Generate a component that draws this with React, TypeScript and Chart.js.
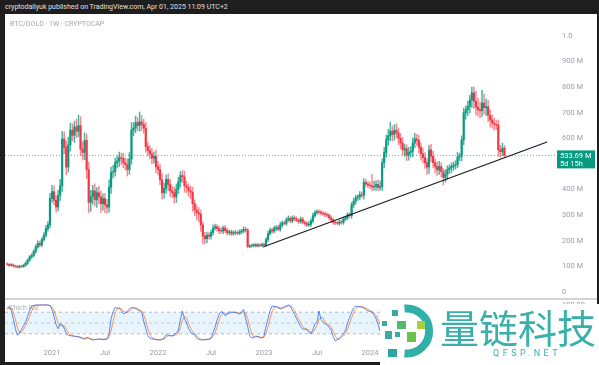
import React, { useEffect, useRef } from 'react';
import { Chart, registerables } from 'chart.js';

Chart.register(...registerables);

// ---------------- DATA ----------------
// Weekly BTC/GOLD candles (values in millions), first week = 2020-08-03
const firstOpen = 110;
const closes = [
  108, 104, 106, 102, 100, 97, 101, 99, 104, 112,
  124, 137, 142, 158, 176, 190, 184, 205, 222, 248,
  262, 365, 392, 358, 332, 378, 415, 598, 565, 488,
  575, 632, 612, 645, 628, 650, 558, 545, 592, 478,
  350, 372, 395, 360, 388, 372, 345, 365, 340, 332,
  410, 468, 470, 505, 512, 525, 522, 505, 498, 478,
  520, 632, 640, 662, 650, 665, 655, 640, 568, 552,
  540, 523, 530, 490, 478, 438, 388, 405, 440, 420,
  395, 388, 372, 402, 430, 455, 450, 415, 408, 395,
  390, 345, 320, 310, 305, 262, 218, 208, 222, 218,
  232, 250, 255, 248, 240, 238, 250, 240, 232, 235,
  228, 232, 233, 230, 235, 238, 245, 242, 178, 180,
  182, 185, 180, 184, 182, 186, 184, 205, 228, 242,
  238, 248, 252, 245, 262, 270, 268, 282, 288, 278,
  290, 286, 280, 275, 285, 272, 268, 262, 264, 278,
  298, 310, 314, 312, 308, 305, 302, 300, 290, 282,
  272, 270, 268, 274, 272, 285, 290, 302, 298, 340,
  355, 368, 372, 380, 378, 428, 422, 418, 415, 410,
  412, 420, 408, 412, 505, 545, 595, 610, 628, 615,
  632, 622, 600, 582, 555, 560, 535, 545, 550, 582,
  598, 592, 565, 540, 525, 505, 488, 555, 530, 505,
  490, 477, 490, 470, 448, 460, 478, 485, 490, 495,
  498, 528, 530, 595, 700, 712, 725, 750, 778, 745,
  722, 712, 708, 738, 720, 724, 690, 672, 660, 655,
  652, 555, 548, 562, 533.69,
];
const upWick = [
  4, 3, 5, 4, 3, 4, 3, 4, 5, 6,
  5, 6, 8, 7, 8, 10, 9, 8, 10, 12,
  14, 20, 25, 22, 18, 20, 25, 30, 28, 25,
  30, 28, 25, 22, 30, 41, 35, 28, 30, 25,
  30, 25, 22, 28, 20, 25, 22, 18, 20, 22,
  28, 20, 25, 18, 20, 22, 18, 20, 18, 22,
  25, 30, 22, 25, 20, 38, 25, 20, 22, 18,
  20, 22, 18, 25, 20, 22, 25, 20, 18, 22,
  20, 18, 22, 20, 18, 15, 20, 22, 18, 15,
  18, 20, 15, 18, 20, 15, 12, 15, 12, 10,
  10, 12, 10, 8, 10, 12, 8, 10, 8, 7,
  8, 7, 8, 6, 8, 7, 10, 8, 6, 5,
  5, 4, 6, 5, 4, 5, 6, 8, 10, 8,
  8, 10, 7, 8, 10, 8, 7, 8, 9, 7,
  8, 7, 8, 6, 8, 7, 6, 8, 10, 8,
  10, 8, 7, 8, 7, 6, 8, 7, 6, 8,
  7, 6, 5, 6, 7, 8, 6, 8, 7, 10,
  12, 10, 8, 12, 10, 15, 12, 10, 12, 45,
  20, 15, 18, 22, 15, 20, 18, 25, 36, 20,
  22, 25, 18, 20, 22, 18, 15, 20, 18, 20,
  22, 18, 20, 18, 22, 20, 15, 18, 22, 20,
  15, 18, 20, 15, 12, 18, 15, 12, 15, 12,
  15, 18, 12, 15, 18, 15, 20, 18, 22, 23,
  40, 35, 30, 50, 35, 30, 25, 22, 20, 18,
  15, 20, 18, 20, 10,
];
const dnWick = [
  3, 4, 3, 5, 4, 3, 4, 3, 3, 4,
  5, 4, 6, 5, 7, 6, 8, 7, 6, 8,
  10, 12, 15, 18, 20, 15, 20, 22, 25, 30,
  20, 25, 22, 28, 25, 22, 25, 30, 28, 35,
  40, 35, 30, 25, 30, 28, 35, 25, 30, 25,
  20, 25, 22, 18, 20, 22, 25, 20, 22, 25,
  18, 20, 22, 18, 20, 22, 25, 20, 22, 20,
  20, 22, 20, 25, 22, 20, 25, 22, 20, 25,
  22, 20, 25, 22, 18, 20, 22, 25, 20, 22,
  25, 30, 22, 28, 30, 25, 30, 20, 15, 12,
  12, 10, 8, 10, 12, 8, 10, 8, 10, 8,
  8, 7, 8, 7, 6, 8, 7, 8, 6, 5,
  5, 6, 5, 4, 6, 5, 4, 5, 8, 6,
  8, 7, 8, 6, 7, 8, 6, 8, 7, 8,
  7, 8, 6, 8, 7, 6, 8, 7, 6, 8,
  8, 7, 6, 8, 7, 6, 8, 7, 8, 10,
  8, 7, 6, 8, 7, 8, 6, 7, 8, 10,
  10, 12, 10, 12, 10, 15, 12, 10, 12, 15,
  12, 15, 12, 10, 15, 20, 18, 22, 20, 25,
  22, 20, 25, 22, 20, 25, 22, 20, 18, 20,
  18, 20, 22, 25, 20, 22, 30, 25, 22, 20,
  25, 22, 18, 20, 30, 18, 20, 15, 18, 15,
  15, 12, 15, 18, 20, 25, 22, 25, 30, 28,
  30, 25, 28, 22, 25, 30, 25, 28, 20, 22,
  18, 25, 22, 15, 8,
];
// Stoch RSI %K / %D
const stochK = [
  90, 96, 85, 62, 35, 16, 22, 32, 42, 52,
  68, 85, 97, 99, 100, 100, 100, 100, 100, 100,
  100, 98, 88, 68, 45, 34, 48, 45, 35, 20,
  16, 15, 14, 13, 12, 12, 9, 7, 5, 10,
  8, 4, 3, 4, 5, 6, 5, 4, 5, 6,
  20, 62, 82, 93, 92, 91, 85, 76, 78, 82,
  90, 93, 92, 90, 87, 84, 80, 55, 35, 15,
  8, 6, 5, 4, 3, 3, 5, 8, 18, 16,
  14, 14, 18, 22, 30, 60, 83, 62, 50, 35,
  24, 20, 18, 8, 5, 3, 3, 4, 5, 5,
  8, 22, 38, 58, 75, 82, 78, 70, 76, 81,
  80, 80, 79, 77, 75, 80, 88, 62, 40, 15,
  8, 10, 14, 12, 9, 8, 14, 40, 62, 85,
  97, 96, 95, 92, 89, 92, 96, 97, 100, 96,
  84, 74, 62, 50, 40, 33, 33, 32, 25, 19,
  30, 48, 52, 83, 60, 52, 48, 45, 38, 30,
  12, 0, 4, 8, 14, 20, 30, 50, 65, 80,
  92, 97, 96, 95, 94, 92, 88, 84, 82, 80,
  72, 62, 45, 28, 55, 80, 95, 100, 100, 96,
  92, 85, 72, 55, 38, 30, 22, 25, 32, 48,
  62, 60, 45, 30, 18, 10, 5, 20, 18, 12,
  8, 5, 8, 5, 2, 6, 15, 25, 35, 45,
  55, 68, 80, 92, 100, 100, 100, 100, 100, 96,
  88, 80, 75, 78, 76, 72, 60, 45, 32, 22,
  15, 6, 4, 3, 2,
];
const stochD = [
  88, 92, 90, 81, 61, 38, 24, 23, 32, 42,
  54, 68, 83, 94, 99, 100, 100, 100, 100, 100,
  100, 99, 95, 85, 67, 49, 42, 42, 43, 33,
  24, 17, 15, 14, 13, 12, 11, 9, 7, 7,
  8, 7, 5, 4, 4, 5, 5, 5, 5, 5,
  10, 29, 55, 79, 89, 92, 89, 84, 80, 79,
  83, 88, 92, 92, 90, 87, 84, 73, 57, 35,
  19, 10, 6, 5, 4, 3, 4, 5, 10, 14,
  16, 15, 15, 18, 23, 37, 58, 68, 65, 49,
  36, 26, 21, 15, 10, 5, 4, 3, 4, 5,
  6, 12, 23, 39, 57, 72, 78, 77, 75, 76,
  79, 80, 80, 79, 77, 77, 81, 77, 63, 39,
  21, 11, 11, 12, 12, 10, 10, 21, 39, 62,
  81, 93, 96, 94, 92, 91, 92, 95, 98, 98,
  93, 85, 73, 62, 51, 41, 35, 33, 30, 25,
  25, 32, 43, 61, 65, 65, 53, 48, 44, 38,
  27, 14, 5, 4, 9, 14, 21, 33, 48, 65,
  79, 90, 95, 96, 95, 94, 91, 88, 85, 82,
  78, 71, 60, 45, 43, 54, 77, 92, 98, 99,
  96, 91, 83, 71, 55, 41, 30, 26, 26, 35,
  47, 57, 56, 45, 31, 19, 11, 12, 14, 17,
  13, 8, 7, 6, 5, 4, 8, 15, 25, 35,
  45, 56, 68, 80, 91, 97, 100, 100, 100, 99,
  95, 88, 81, 78, 76, 75, 69, 59, 46, 33,
  23, 14, 8, 4, 3,
];

const timeTickIdx = [22, 48, 74, 100, 126, 152, 178, 204, 230];
const timeTickLabels = ['2021', 'Jul', '2022', 'Jul', '2023', 'Jul', '2024', 'Jul', '2025'];
const priceTicks = [0, 100, 200, 300, 400, 500, 600, 700, 800, 900, 1000];
const priceTickLabels = ['0', '100 M', '200 M', '300 M', '400 M', '500 M', '600 M', '700 M', '800 M', '900 M', '1.0'];
const trendX = [125.5, 264.9];
const trendY = [176, 586];
const stochLevels = [80, 50, 20];
const stochTicks = [100];
const stochTickLabels = ['100.00'];
const lastPriceLabel = '533.69 M';
const countdownLabel = '5d 15h';

// ---------------- STYLE ----------------
const X_MIN = -1.06;
const X_MAX = 268.8;
const UP = '#089981';
const DOWN = '#F23645';
const UP_WICK = 'rgba(8,153,129,0.75)';
const DOWN_WICK = 'rgba(242,54,69,0.6)';
const TXT = '#9a9da6';
const FONT = 'Roboto, "Noto Sans", sans-serif';

const priceTagPlugin = {
  id: 'priceTag',
  afterDraw(chart: any) {
    const { ctx, chartArea } = chart;
    const y = chart.scales.y;
    const last = closes[closes.length - 1];
    const py = y.getPixelForValue(last);
    const x0 = chartArea.right + 2;
    ctx.save();
    ctx.fillStyle = UP;
    ctx.fillRect(x0, py - 5, 38, 18);
    ctx.fillStyle = '#ffffff';
    ctx.font = '7.5px ' + FONT;
    ctx.textBaseline = 'middle';
    ctx.textAlign = 'left';
    ctx.fillText(lastPriceLabel, x0 + 3, py + 0.5);
    ctx.fillText(countdownLabel, x0 + 3, py + 8.5);
    ctx.restore();
  },
};

export default function App() {
  const mainRef = useRef<HTMLCanvasElement>(null);
  const stochRef = useRef<HTMLCanvasElement>(null);

  useEffect(() => {
    const n = closes.length;
    const idx = Array.from({ length: n }, (_, i) => i);
    const opens = idx.map((i) => (i === 0 ? firstOpen : closes[i - 1]));
    const highs = idx.map((i) => Math.max(opens[i], closes[i]) + upWick[i]);
    const lows = idx.map((i) => Math.min(opens[i], closes[i]) - dnWick[i]);
    const isUp = idx.map((i) => closes[i] >= opens[i]);
    const colors = idx.map((i) => (isUp[i] ? UP : DOWN));
    const wickColors = idx.map((i) => (isUp[i] ? UP_WICK : DOWN_WICK));
    const last = closes[n - 1];

    const main = new Chart(mainRef.current!, {
      type: 'bar',
      data: {
        datasets: [
          {
            type: 'line',
            data: trendX.map((x, i) => ({ x, y: trendY[i] })),
            borderColor: '#131722',
            borderWidth: 1.1,
            pointRadius: 0,
            order: 0,
          } as any,
          {
            type: 'line',
            data: [
              { x: X_MIN, y: last },
              { x: X_MAX, y: last },
            ],
            borderColor: 'rgba(8,153,129,0.7)',
            borderWidth: 1,
            borderDash: [1, 2],
            pointRadius: 0,
            order: 3,
          } as any,
          {
            type: 'bar',
            data: idx.map((i) => ({ x: i, y: [opens[i], closes[i]] })),
            backgroundColor: colors,
            barThickness: 1.5,
            grouped: false,
            order: 1,
          } as any,
          {
            type: 'bar',
            data: idx.map((i) => ({ x: i, y: [lows[i], highs[i]] })),
            backgroundColor: wickColors,
            barThickness: 0.8,
            grouped: false,
            order: 2,
          } as any,
        ],
      },
      options: {
        animation: false,
        responsive: false,
        maintainAspectRatio: false,
        layout: { padding: 0 },
        plugins: { legend: { display: false }, tooltip: { enabled: false } },
        scales: {
          x: { type: 'linear', min: X_MIN, max: X_MAX, offset: false, display: false, grid: { offset: false } },
          y: {
            position: 'right',
            min: -23.4,
            max: 1085.9,
            grid: { display: false, drawTicks: false },
            border: { display: false },
            afterFit: (s: any) => {
              s.width = 42;
              s.paddingTop = 0;
              s.paddingBottom = 0;
            },
            afterBuildTicks: (s: any) => {
              s.ticks = priceTicks.map((v) => ({ value: v }));
            },
            ticks: {
              padding: 7,
              color: TXT,
              font: { size: 7.5, family: FONT },
              callback: (v: any) => {
                const k = priceTicks.indexOf(Number(v));
                return k >= 0 ? priceTickLabels[k] : '';
              },
            },
          },
        },
      } as any,
      plugins: [priceTagPlugin],
    });

    const flat = (v: number) => [
      { x: X_MIN, y: v },
      { x: X_MAX, y: v },
    ];

    const stoch = new Chart(stochRef.current!, {
      type: 'line',
      data: {
        datasets: [
          {
            data: idx.map((i) => ({ x: i, y: stochK[i] })),
            borderColor: 'rgba(41,98,255,0.85)',
            borderWidth: 0.9,
            pointRadius: 0,
            order: 0,
          },
          {
            data: idx.map((i) => ({ x: i, y: stochD[i] })),
            borderColor: 'rgba(255,109,0,0.75)',
            borderWidth: 0.9,
            pointRadius: 0,
            order: 1,
          },
          {
            data: flat(stochLevels[0]),
            borderColor: 'rgba(120,123,134,0.5)',
            borderWidth: 1,
            borderDash: [3, 3],
            pointRadius: 0,
            fill: { value: stochLevels[2] },
            backgroundColor: 'rgba(33,150,243,0.1)',
            order: 5,
          },
          {
            data: flat(stochLevels[1]),
            borderColor: 'rgba(120,123,134,0.35)',
            borderWidth: 1,
            borderDash: [3, 3],
            pointRadius: 0,
            order: 5,
          },
          {
            data: flat(stochLevels[2]),
            borderColor: 'rgba(120,123,134,0.5)',
            borderWidth: 1,
            borderDash: [3, 3],
            pointRadius: 0,
            order: 5,
          },
        ],
      },
      options: {
        animation: false,
        responsive: false,
        maintainAspectRatio: false,
        layout: { padding: 0 },
        plugins: { legend: { display: false }, tooltip: { enabled: false } },
        scales: {
          x: {
            type: 'linear',
            min: X_MIN,
            max: X_MAX,
            offset: false,
            grid: { display: false, drawTicks: false },
            border: { display: false },
            afterFit: (s: any) => {
              s.height = 17;
              s.paddingLeft = 0;
              s.paddingRight = 0;
            },
            afterBuildTicks: (s: any) => {
              s.ticks = timeTickIdx.map((v) => ({ value: v }));
            },
            ticks: {
              padding: 4,
              color: TXT,
              maxRotation: 0,
              autoSkip: false,
              font: { size: 7.5, family: FONT },
              callback: (v: any) => {
                const k = timeTickIdx.indexOf(Number(v));
                return k >= 0 ? timeTickLabels[k] : '';
              },
            },
          },
          y: {
            position: 'right',
            min: -11.1,
            max: 113.9,
            grid: { display: false, drawTicks: false },
            border: { display: false },
            afterFit: (s: any) => {
              s.width = 42;
              s.paddingTop = 0;
              s.paddingBottom = 0;
            },
            afterBuildTicks: (s: any) => {
              s.ticks = stochTicks.map((v) => ({ value: v }));
            },
            ticks: {
              padding: 7,
              color: TXT,
              font: { size: 7.5, family: FONT },
              callback: (v: any) => {
                const k = stochTicks.indexOf(Number(v));
                return k >= 0 ? stochTickLabels[k] : '';
              },
            },
          },
        },
      } as any,
    });

    return () => {
      main.destroy();
      stoch.destroy();
    };
  }, []);

  return (
    <div
      style={{
        position: 'fixed',
        left: 0,
        top: 0,
        width: 599,
        height: 365,
        background: '#1e1e1e',
        overflow: 'hidden',
        fontFamily: FONT,
      }}
    >
      <div
        style={{
          position: 'absolute',
          left: 5,
          top: 2,
          fontSize: 7,
          color: '#e0e0e0',
          whiteSpace: 'nowrap',
          lineHeight: '10px',
        }}
      >
        cryptodailyuk published on TradingView.com, Apr 01, 2025 11:09 UTC+2
      </div>
      <div style={{ position: 'absolute', left: 5, top: 14, width: 592, height: 348, background: '#ffffff' }} />
      <canvas
        ref={mainRef}
        width={592}
        height={284}
        style={{ position: 'absolute', left: 5, top: 14, width: 592, height: 284 }}
      />
      <div
        style={{
          position: 'absolute',
          left: 10,
          top: 19,
          fontSize: 7,
          color: '#a3a6ad',
          whiteSpace: 'nowrap',
          lineHeight: '10px',
        }}
      >
        BTC/GOLD · 1W · CRYPTOCAP
      </div>
      <div style={{ position: 'absolute', left: 5, top: 298, width: 592, height: 2, background: '#d4d4d4' }} />
      <canvas
        ref={stochRef}
        width={592}
        height={62}
        style={{ position: 'absolute', left: 5, top: 300, width: 592, height: 62 }}
      />
      <div
        style={{
          position: 'absolute',
          left: 9,
          top: 303,
          fontSize: 7,
          color: 'rgba(120,123,134,0.6)',
          whiteSpace: 'nowrap',
          lineHeight: '10px',
        }}
      >
        Stoch RSI
      </div>
      {/* watermark */}
      <div style={{ position: 'absolute', left: 380, top: 304, width: 219, height: 61, background: '#ffffff' }}>
        <svg width={60} height={61} style={{ position: 'absolute', left: 0, top: -1 }}>
          <path d="M 24.5 5.6 A 22.5 22.5 0 1 1 24.5 50.4" fill="none" stroke="#2fb0a9" strokeWidth={8} />
          <rect x={12} y={7} width={6} height={6} fill="#3aa9a6" />
          <rect x={2} y={18} width={5} height={5} fill="#3aa9a6" />
          <rect x={17} y={18} width={9} height={8} fill="#55b86a" />
          <rect x={37} y={18} width={8} height={8} fill="#a6cf3f" />
          <rect x={5} y={28} width={7} height={8} fill="#3aa9a6" />
          <rect x={15} y={29} width={5} height={5} fill="#3aa9a6" />
          <rect x={27} y={29} width={9} height={10} fill="#6cc24a" />
          <rect x={8} y={46} width={9} height={8} fill="#2fa5a2" />
        </svg>
        <div
          style={{
            position: 'absolute',
            left: 60,
            top: 2,
            fontSize: 39,
            lineHeight: '40px',
            color: '#3ab0aa',
            fontFamily: '"Noto Sans CJK SC", sans-serif',
            whiteSpace: 'nowrap',
          }}
        >
          量链科技
        </div>
        <div
          style={{
            position: 'absolute',
            left: 113,
            top: 44,
            fontSize: 9,
            lineHeight: '10px',
            letterSpacing: 3.5,
            color: '#3ab0aa',
            fontFamily: FONT,
            whiteSpace: 'nowrap',
          }}
        >
          QFSP.NET
        </div>
      </div>
    </div>
  );
}
